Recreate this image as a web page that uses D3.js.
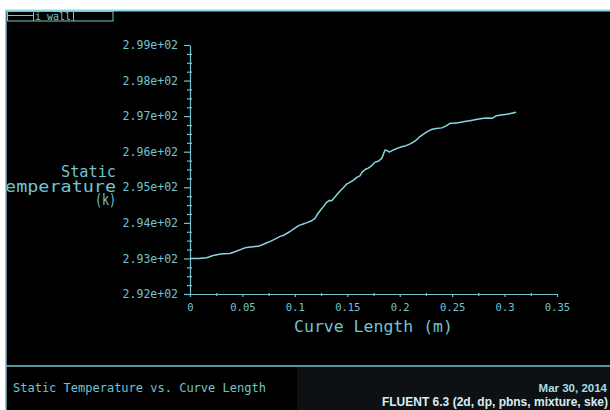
<!DOCTYPE html>
<html>
<head>
<meta charset="utf-8">
<script src="https://cdn.jsdelivr.net/npm/d3@7"></script>
<style>
  html, body { margin: 0; padding: 0; background: #ffffff; }
  svg { display: block; }
</style>
</head>
<body>
<svg id="chart" width="610" height="410"></svg>
<script>
// Static temperature along the wall, sampled against curve length
const curveLength = [0, 0.008, 0.016, 0.022, 0.028, 0.032, 0.038, 0.044, 0.05, 0.054,
  0.06, 0.065, 0.07, 0.075, 0.08, 0.086, 0.09, 0.095, 0.1, 0.104,
  0.108, 0.111, 0.116, 0.119, 0.121, 0.124, 0.127, 0.13, 0.133, 0.135,
  0.138, 0.142, 0.146, 0.149, 0.152, 0.156, 0.159, 0.162, 0.164, 0.167,
  0.17, 0.173, 0.176, 0.18, 0.183, 0.186, 0.188, 0.19, 0.194, 0.198,
  0.202, 0.206, 0.21, 0.213, 0.216, 0.219, 0.223, 0.227, 0.231, 0.235,
  0.24, 0.244, 0.248, 0.252, 0.257, 0.262, 0.268, 0.274, 0.28, 0.284,
  0.288, 0.292, 0.297, 0.302, 0.308, 0.311];
const staticTemp = [293.00, 293.00, 293.02, 293.08, 293.12, 293.13, 293.14, 293.20, 293.27, 293.31,
  293.33, 293.34, 293.40, 293.46, 293.53, 293.62, 293.66, 293.75, 293.85, 293.93,
  293.97, 294.00, 294.06, 294.12, 294.22, 294.34, 294.45, 294.57, 294.63, 294.62,
  294.72, 294.86, 294.98, 295.08, 295.13, 295.20, 295.28, 295.32, 295.42, 295.50,
  295.54, 295.60, 295.70, 295.74, 295.82, 296.05, 296.03, 295.99, 296.05, 296.10,
  296.14, 296.17, 296.22, 296.27, 296.33, 296.42, 296.50, 296.58, 296.63, 296.65,
  296.67, 296.72, 296.80, 296.80, 296.82, 296.85, 296.88, 296.91, 296.94, 296.95,
  296.94, 297.01, 297.03, 297.05, 297.09, 297.11];

const xTicks = [0, 0.05, 0.1, 0.15, 0.2, 0.25, 0.3, 0.35];
const xTickLabels = ["0", "0.05", "0.1", "0.15", "0.2", "0.25", "0.3", "0.35"];
const xMinorTicks = [0.025, 0.075, 0.125, 0.175, 0.225, 0.275, 0.325];
const yTicks = [292, 293, 294, 295, 296, 297, 298, 299];
const yTickLabels = ["2.92e+02", "2.93e+02", "2.94e+02", "2.95e+02", "2.96e+02", "2.97e+02", "2.98e+02", "2.99e+02"];
const yMinorTicks = [292.25, 292.5, 292.75, 293.25, 293.5, 293.75, 294.25, 294.5, 294.75,
  295.25, 295.5, 295.75, 296.25, 296.5, 296.75, 297.25, 297.5, 297.75, 298.25, 298.5, 298.75];

const seriesName = "wall";
const xTitle = "Curve Length (m)";
const yTitleLines = ["Static", "Temperature", "(k)"];
const plotTitle = "Static Temperature vs. Curve Length";
const dateText = "Mar 30, 2014";
const solverText = "FLUENT 6.3 (2d, dp, pbns, mixture, ske)";

const CYAN = "#72c4d0";
const CURVE = "#8ad5e0";
const MONO = "'DejaVu Sans Mono', 'Liberation Mono', monospace";
const SANS = "'Liberation Sans', Arial, sans-serif";

const svg = d3.select("#chart");

// window frame
svg.append("rect").attr("x", 0).attr("y", 0).attr("width", 610).attr("height", 410).attr("fill", "#ffffff");
svg.append("rect").attr("x", 5).attr("y", 10).attr("width", 605).attr("height", 400).attr("fill", "#000000");
svg.append("rect").attr("x", 297).attr("y", 367).attr("width", 313).attr("height", 43).attr("fill", "#0e1113");
svg.append("line").attr("x1", 5).attr("x2", 610).attr("y1", 10.5).attr("y2", 10.5)
  .attr("stroke", "#86d8e6").attr("stroke-width", 2);
svg.append("line").attr("x1", 5.8).attr("x2", 5.8).attr("y1", 10).attr("y2", 410)
  .attr("stroke", "#86d8e6").attr("stroke-width", 1.6);
svg.append("line").attr("x1", 6).attr("x2", 610).attr("y1", 366).attr("y2", 366)
  .attr("stroke", CYAN).attr("stroke-width", 1.3);

// legend strip
const lg = svg.append("g");
lg.append("rect").attr("x", 7.5).attr("y", 11.5).attr("width", 105.5).attr("height", 9.5)
  .attr("fill", "none").attr("stroke", CYAN).attr("stroke-width", 1);
lg.append("line").attr("x1", 8).attr("x2", 33).attr("y1", 15.5).attr("y2", 15.5)
  .attr("stroke", CYAN).attr("stroke-width", 1);
lg.append("line").attr("x1", 33.5).attr("x2", 33.5).attr("y1", 11.5).attr("y2", 21)
  .attr("stroke", CYAN).attr("stroke-width", 1);
lg.append("text").attr("x", 35).attr("y", 20).attr("fill", CYAN)
  .style("font-family", MONO).style("font-size", "10px").text("i " + seriesName);
lg.append("line").attr("x1", 73.5).attr("x2", 73.5).attr("y1", 11.5).attr("y2", 21)
  .attr("stroke", CYAN).attr("stroke-width", 1);

// scales
const x = d3.scaleLinear().domain([0, 0.35]).range([190, 557]);
const y = d3.scaleLinear().domain([292, 299]).range([294, 45]);

// y axis: major + minor ticks
const yAxis = svg.append("g").attr("transform", `translate(${x(0)},0)`)
  .call(d3.axisLeft(y).tickValues(yTicks).tickFormat((d, i) => yTickLabels[i])
    .tickSize(6).tickPadding(6).tickSizeOuter(0));
svg.append("g").attr("transform", `translate(${x(0)},0)`)
  .call(d3.axisLeft(y).tickValues(yMinorTicks).tickFormat("").tickSize(3).tickSizeOuter(0))
  .call(g => g.select(".domain").remove());
svg.append("g").attr("transform", `translate(${x(0)},0)`)
  .call(d3.axisRight(y).tickValues(yMinorTicks).tickFormat("").tickSize(2).tickSizeOuter(0))
  .call(g => g.select(".domain").remove());

// x axis: major + minor ticks
const xAxis = svg.append("g").attr("transform", `translate(0,${y(292)})`)
  .call(d3.axisBottom(x).tickValues(xTicks).tickFormat((d, i) => xTickLabels[i])
    .tickSize(3).tickPadding(7).tickSizeOuter(0));
svg.append("g").attr("transform", `translate(0,${y(292)})`)
  .call(d3.axisBottom(x).tickValues(xMinorTicks).tickFormat("").tickSize(2).tickSizeOuter(0))
  .call(g => g.select(".domain").remove());
svg.append("g").attr("transform", `translate(0,${y(292)})`)
  .call(d3.axisTop(x).tickValues(xMinorTicks).tickFormat("").tickSize(1).tickSizeOuter(0))
  .call(g => g.select(".domain").remove());

svg.selectAll(".domain, .tick line").attr("stroke", CYAN).attr("stroke-width", 1.2);
yAxis.selectAll("text").attr("fill", CYAN).style("font-family", MONO).style("font-size", "11.5px");
xAxis.selectAll("text").attr("fill", CYAN).style("font-family", MONO).style("font-size", "10.5px");

// axis titles
svg.append("text").attr("x", x(0.175)).attr("y", 332).attr("text-anchor", "middle")
  .attr("fill", CYAN).style("font-family", MONO).style("font-size", "16.5px").text(xTitle);

svg.append("clipPath").attr("id", "frameClip")
  .append("rect").attr("x", 6.6).attr("y", 11).attr("width", 604).attr("height", 355);
const yTitle = svg.append("g").attr("clip-path", "url(#frameClip)");
const yTitleBase = [177, 192, 204.5];
const yTitleLen = [55, 122, 21];
yTitleLines.forEach((t, i) => {
  yTitle.append("text").attr("x", 116).attr("y", yTitleBase[i]).attr("text-anchor", "end")
    .attr("textLength", yTitleLen[i]).attr("lengthAdjust", "spacingAndGlyphs")
    .attr("fill", CYAN).style("font-family", MONO).style("font-size", "16px").text(t);
});

// data curve
const line = d3.line().x((d, i) => x(curveLength[i])).y(d => y(d));
svg.append("path").datum(staticTemp).attr("d", line)
  .attr("fill", "none").attr("stroke", CURVE).attr("stroke-width", 1.5)
  .attr("stroke-linejoin", "round");

// footer texts
svg.append("text").attr("x", 13).attr("y", 392).attr("fill", CYAN)
  .style("font-family", MONO).style("font-size", "12px").text(plotTitle);
svg.append("text").attr("x", 607).attr("y", 392).attr("text-anchor", "end").attr("fill", "#a6dde8")
  .style("font-family", SANS).style("font-size", "11.5px")
  .style("font-weight", "bold").text(dateText);
svg.append("text").attr("x", 608).attr("y", 405.5).attr("text-anchor", "end").attr("fill", "#d6eef3")
  .style("font-family", SANS).style("font-size", "12px")
  .style("font-weight", "bold").text(solverText);
</script>
</body>
</html>
